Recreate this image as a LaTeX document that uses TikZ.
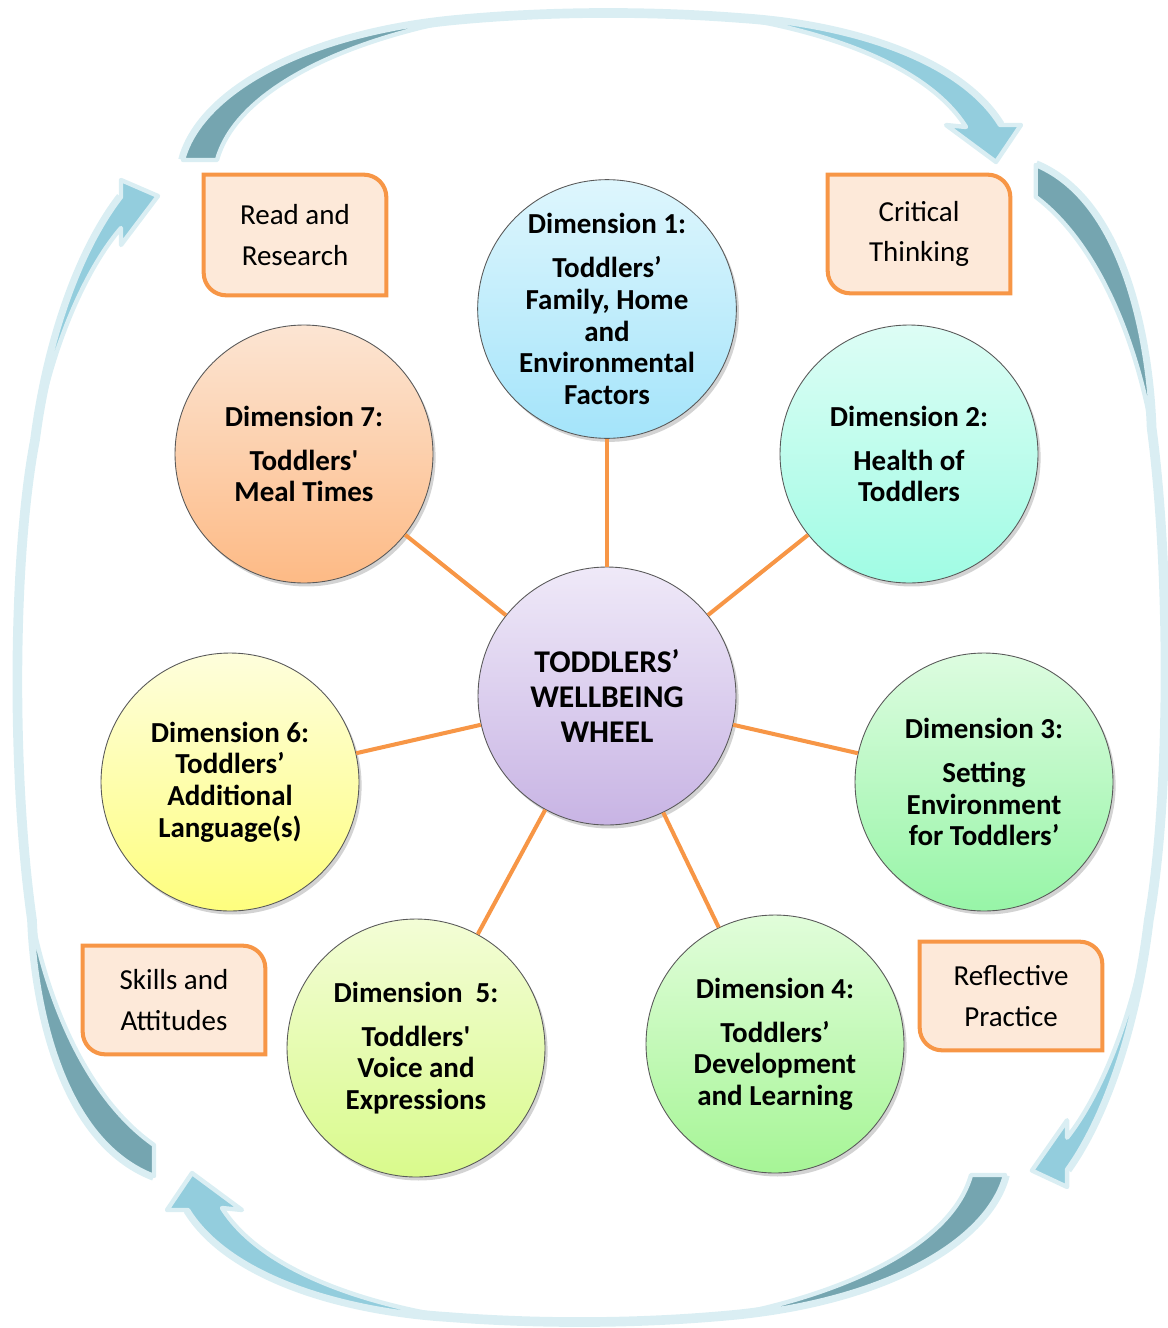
\documentclass[tikz,border=0pt]{standalone}
\usepackage{fontspec}
\setmainfont{Carlito}
\usetikzlibrary{shadows,backgrounds}

\definecolor{tailteal}{HTML}{75A5B0}
\definecolor{headblue}{HTML}{93CDDD}
\definecolor{glowblue}{HTML}{DAEEF3}
\definecolor{spokeorange}{HTML}{F79646}
\definecolor{notefill}{HTML}{FDE9D9}
\definecolor{hubtop}{HTML}{EFE9F8}\definecolor{hubbot}{HTML}{C8B4E4}
\definecolor{onetop}{HTML}{DEF6FD}\definecolor{onebot}{HTML}{A4E4FA}
\definecolor{twotop}{HTML}{DDFDF5}\definecolor{twobot}{HTML}{A0FCE4}
\definecolor{threetop}{HTML}{DDFCE0}\definecolor{threebot}{HTML}{97F5A7}
\definecolor{fourtop}{HTML}{E1FDDA}\definecolor{fourbot}{HTML}{A6F596}
\definecolor{fivetop}{HTML}{F3FDD6}\definecolor{fivebot}{HTML}{D9FA8C}
\definecolor{sixtop}{HTML}{FEFEDC}\definecolor{sixbot}{HTML}{FEFE7E}
\definecolor{seventop}{HTML}{FCE5D3}\definecolor{sevenbot}{HTML}{FDBA85}

\tikzset{
  glowline/.style={draw=glowblue,line width=5.5pt},
  tailpart/.style={fill=tailteal,draw=glowblue,line width=2.5pt,line join=round},
  headpart/.style={fill=headblue,draw=glowblue,line width=2.5pt,line join=round},
  dimcircle/.style 2 args={circle,minimum size=5.16cm,inner sep=0pt,align=center,
    draw=gray!70!black,line width=0.5pt,top color=#1,bottom color=#2,
    font=\fontsize{16.5}{18}\selectfont\bfseries,
    drop shadow={shadow xshift=1.5pt,shadow yshift=-2pt,opacity=0.35}},
  notebox/.style={minimum width=3.64cm,minimum height=2.4cm,inner sep=0pt,
    align=center,font=\fontsize{16.5}{23}\selectfont},
  noteline/.style={fill=notefill,draw=spokeorange,line width=2.3pt},
  spoke/.style={draw=spokeorange,line width=2.3pt}
}

% curved arrow along the top, tail at the left
\newcommand{\toparrow}{%
  \draw[glowline] (183,160) .. controls (200,95) and (300,35) .. (455,20)
    .. controls (550,11) and (650,11) .. (740,18)
    .. controls (850,25) and (960,60) .. (1000,125);
  \filldraw[tailpart] (183,160) .. controls (200,95) and (300,35) .. (455,20)
    .. controls (330,45) and (235,95) .. (217,160) -- cycle;
  \filldraw[headpart] (740,18) .. controls (850,25) and (960,60) .. (1000,125)
    -- (1021,125) -- (996,162) -- (946,125) -- (966,127)
    .. controls (930,70) and (840,35) .. (740,18) -- cycle;
}
% curved arrow along the left side, tail at the bottom
\newcommand{\sidearrow}{%
  \draw[glowline] (154,1176) .. controls (60,1140) and (35,1000) .. (32,920)
    .. controls (12,780) and (12,560) .. (35,440)
    .. controls (48,340) and (80,250) .. (121,197);
  \filldraw[tailpart] (154,1176) .. controls (60,1140) and (35,1000) .. (32,920)
    .. controls (50,1010) and (90,1100) .. (154,1145) -- cycle;
  \filldraw[headpart] (35,440) .. controls (48,340) and (80,250) .. (121,197)
    -- (121,180) -- (158,196) -- (121,245) -- (121,228)
    .. controls (85,270) and (50,350) .. (35,440) -- cycle;
}

\begin{document}
\begin{tikzpicture}[x=0.02cm,y=-0.02cm]
  \useasboundingbox (0,0) rectangle (1168,1328);

  % cycle arrows
  \toparrow
  \sidearrow
  \begin{scope}[shift={(1188,1335)},scale=-1]
    \toparrow
  \end{scope}
  \begin{scope}[shift={(1182,1371.6)},xscale=-0.95,yscale=-1.026]
    \sidearrow
  \end{scope}

  % wheel
  \node[dimcircle={hubtop}{hubbot}] (hub) at (607,696)
    [font=\fontsize{18}{20}\selectfont\bfseries] {TODDLERS’\\WELLBEING\\WHEEL};
  \node[dimcircle={onetop}{onebot}] (d1) at (607,309)
    {Dimension 1:\\[7pt]Toddlers’\\Family, Home\\and\\Environmental\\Factors};
  \node[dimcircle={twotop}{twobot}] (d2) at (909,454)
    {Dimension 2:\\[7pt]Health of\\Toddlers};
  \node[dimcircle={threetop}{threebot}] (d3) at (984,782)
    {Dimension 3:\\[7pt]Setting\\Environment\\for Toddlers’};
  \node[dimcircle={fourtop}{fourbot}] (d4) at (775,1044)
    {Dimension 4:\\[7pt]Toddlers’\\Development\\and Learning};
  \node[dimcircle={fivetop}{fivebot}] (d5) at (416,1048)
    {Dimension~~5:\\[7pt]Toddlers\textquotesingle\\Voice and\\Expressions};
  \node[dimcircle={sixtop}{sixbot}] (d6) at (230,782)
    {Dimension 6:\\Toddlers’\\Additional\\Language(s)};
  \node[dimcircle={seventop}{sevenbot}] (d7) at (304,454)
    {Dimension 7:\\[7pt]Toddlers\textquotesingle\\Meal Times};

  \foreach \n in {1,...,7}
    \draw[spoke] (hub) -- (d\n);

  % practice boxes
  \node[notebox] (read) at (295,235) {Read and\\Research};
  \node[notebox,minimum height=2.36cm] (critical) at (919,234) {Critical\\Thinking};
  \node[notebox,minimum height=2.16cm] (skills) at (174,1000) {Skills and\\Attitudes};
  \node[notebox,minimum height=2.16cm] (reflect) at (1011,996) {Reflective\\Practice};
  \begin{scope}[on background layer]
    \foreach \b in {read,critical,skills,reflect}
      \draw[noteline] (\b.south west) [sharp corners] -- (\b.north west)
        [rounded corners=0.45cm] -- (\b.north east) [sharp corners] -- (\b.south east)
        [rounded corners=0.45cm] -- cycle;
  \end{scope}
\end{tikzpicture}
\end{document}
